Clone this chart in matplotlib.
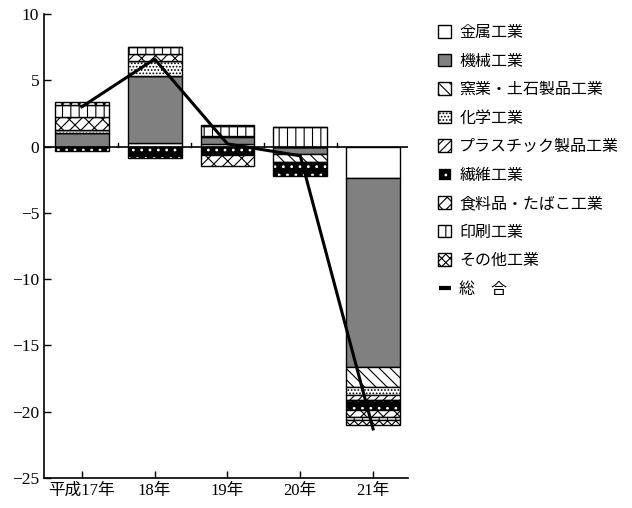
import numpy as np
import matplotlib
matplotlib.use("Agg")
from matplotlib import pyplot as plt
from matplotlib.patches import Patch
from matplotlib.lines import Line2D

plt.rcParams['font.family'] = ['Noto Sans CJK JP', 'DejaVu Sans']
plt.rcParams['hatch.linewidth'] = 0.8

# data (percentage points)
years = ['平成17年', '18年', '19年', '20年', '21年']
kinzoku = [0.0, 0.3, 0.2, 0.0, -2.4]       # 金属工業
kikai = [1.0, 5.05, 0.55, -0.6, -14.2]     # 機械工業
yogyo = [0.0, 0.0, 0.05, -0.55, -1.5]      # 窯業・土石製品工業
kagaku = [0.25, 1.13, 0.0, 0.0, -0.65]     # 化学工業
plastic = [0.0, 0.0, 0.0, 0.0, -0.4]       # プラスチック製品工業
seni = [-0.3, -0.85, -0.65, -1.1, -0.75]   # 繊維工業
shokuryo = [0.95, 0.53, -0.8, 0.0, -0.5]   # 食料品・たばこ工業
insatsu = [0.9, 0.53, 0.75, 1.45, -0.25]   # 印刷工業
sonota = [0.25, 0.0, 0.1, 0.0, -0.35]      # その他工業
sogo = [3.0, 6.6, 0.2, -0.7, -21.3]        # 総合

series = [
    ('金属工業', kinzoku, 'white', None),
    ('機械工業', kikai, '#808080', None),
    ('窯業・土石製品工業', yogyo, 'white', '\\\\\\'),
    ('化学工業', kagaku, 'white', '.....'),
    ('プラスチック製品工業', plastic, 'white', '////'),
    ('繊維工業', seni, 'black', '..'),
    ('食料品・たばこ工業', shokuryo, 'white', '/xx'),
    ('印刷工業', insatsu, 'white', '||'),
    ('その他工業', sonota, 'white', 'xxxx'),
]

fig = plt.figure(figsize=(6.32, 5.08), dpi=100)
ax = fig.add_axes([0.0696, 0.0591, 0.576, 0.9134])

x = np.arange(len(years))
width = 0.74
pos_base = np.zeros(len(years))
neg_base = np.zeros(len(years))
handles = []
for name, vals, face, hatch in series:
    v = np.array(vals)
    bottom = np.where(v >= 0, pos_base, neg_base)
    if face == 'black':
        # black fill with white dots, then black outline
        ax.bar(x, v, width, bottom=bottom, color='black', edgecolor='white',
               hatch=hatch, linewidth=0, zorder=2)
        ax.bar(x, v, width, bottom=bottom, fill=False, edgecolor='black',
               linewidth=1, zorder=2)
        handles.append(Patch(facecolor='black', edgecolor='white', hatch=hatch,
                             linewidth=0.5, label=name))
    else:
        ax.bar(x, v, width, bottom=bottom, color=face, edgecolor='black',
               hatch=hatch, linewidth=1, zorder=2)
        handles.append(Patch(facecolor=face, edgecolor='black', hatch=hatch,
                             linewidth=1, label=name))
    pos_base = pos_base + np.where(v > 0, v, 0)
    neg_base = neg_base + np.where(v < 0, v, 0)

ax.plot(x, sogo, color='black', linewidth=2.2, zorder=4)
handles.append(Line2D([], [], color='black', marker='_', markersize=9,
                      markeredgewidth=3, linestyle='None', label='総　合'))

# zero line with small ticks between categories
ax.axhline(0, color='black', linewidth=1.2, zorder=3)
for b in np.arange(0.5, 5.0, 1.0):
    ax.plot([b, b], [0, 0.25], color='black', linewidth=1, zorder=3)

ax.set_xlim(-0.52, 4.48)
ax.set_ylim(-25, 10)
ax.set_yticks(np.arange(-25, 11, 5))
ax.set_yticklabels([str(t).replace('-', '\u2212') for t in range(-25, 11, 5)],
                   family=['Liberation Serif', 'Noto Sans CJK JP'], fontsize=12.5)
ax.set_xticks(x)
ax.set_xticklabels(years, family=['Liberation Serif', 'Noto Sans CJK JP'],
                   fontsize=12)
ax.tick_params(direction='in', length=5, width=1)
ax.spines['top'].set_visible(False)
ax.spines['right'].set_visible(False)
ax.spines['left'].set_linewidth(1.2)
ax.spines['bottom'].set_linewidth(1.2)

fig.legend(handles=handles, loc='upper left', bbox_to_anchor=(0.671, 0.981),
           frameon=False, fontsize=11.5, handlelength=0.8, handleheight=0.8,
           handletextpad=0.5, labelspacing=0.72, borderpad=0.4)

fig.savefig('out.png', dpi=100)
